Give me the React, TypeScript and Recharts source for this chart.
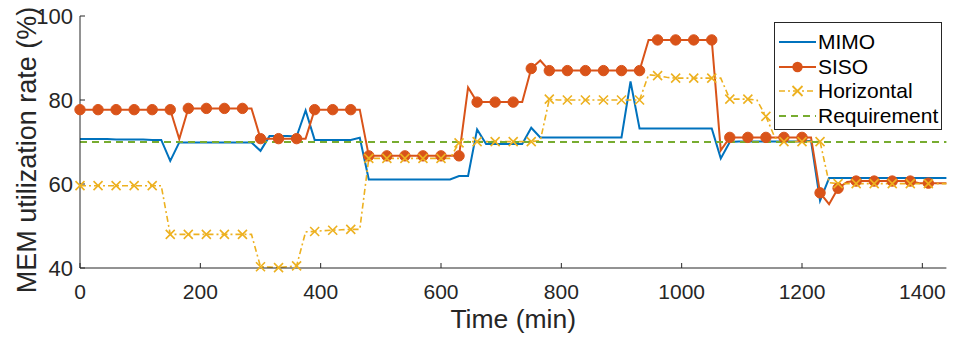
import React from 'react';
import { LineChart, Line, XAxis, YAxis, Legend, Label } from 'recharts';

const times = [
  0, 15, 30, 45, 60, 75, 90, 105, 120, 135, 150, 165, 180, 195, 210, 225, 240, 255, 270, 285,
  300, 315, 330, 345, 360, 375, 390, 405, 420, 435, 450, 465, 480, 495, 510, 525, 540, 555, 570, 585,
  600, 615, 630, 645, 660, 675, 690, 705, 720, 735, 750, 765, 780, 795, 810, 825, 840, 855, 870, 885,
  900, 915, 930, 945, 960, 975, 990, 1005, 1020, 1035, 1050, 1065, 1080, 1095, 1110, 1125, 1140, 1155, 1170, 1185,
  1200, 1215, 1230, 1245, 1260, 1275, 1290, 1305, 1320, 1335, 1350, 1365, 1380, 1395, 1410, 1425, 1440,
];

const mimo = [
  70.7, 70.7, 70.7, 70.7, 70.6, 70.6, 70.6, 70.6, 70.5, 70.5, 65.5, 69.9, 69.9, 69.9, 69.9, 69.9, 69.9, 69.9, 69.9, 69.9,
  67.9, 71.4, 71.4, 71.4, 71.3, 77.5, 70.5, 70.5, 70.5, 70.5, 70.5, 71.0, 61.1, 61.1, 61.1, 61.1, 61.1, 61.1, 61.1, 61.1,
  61.1, 61.1, 61.9, 61.9, 73.0, 69.5, 69.5, 69.5, 69.5, 69.5, 73.4, 71.1, 71.1, 71.1, 71.1, 71.1, 71.1, 71.1, 71.1, 71.1,
  71.1, 84.4, 73.2, 73.2, 73.2, 73.2, 73.2, 73.2, 73.2, 73.2, 73.2, 66.1, 70.0, 70.1, 70.1, 70.1, 70.1, 70.1, 70.1, 70.1,
  70.1, 70.3, 56.0, 61.4, 61.4, 61.4, 61.4, 61.4, 61.4, 61.4, 61.4, 61.4, 61.4, 61.4, 61.4, 61.4, 61.4,
];

const siso = [
  77.7, 77.7, 77.7, 77.7, 77.7, 77.7, 77.7, 77.7, 77.7, 77.7, 77.7, 70.7, 78.0, 78.0, 78.0, 78.0, 78.0, 78.0, 78.0, 78.0,
  70.8, 70.8, 70.8, 70.8, 70.8, 70.8, 77.7, 77.7, 77.7, 77.7, 77.7, 77.7, 66.7, 66.7, 66.7, 66.7, 66.7, 66.7, 66.7, 66.7,
  66.7, 66.7, 66.7, 83.0, 79.5, 79.5, 79.5, 79.5, 79.5, 79.5, 87.5, 89.4, 87.0, 87.0, 87.0, 87.0, 87.0, 87.0, 87.0, 87.0,
  87.0, 87.0, 87.0, 94.3, 94.3, 94.3, 94.3, 94.3, 94.3, 94.3, 94.3, 68.0, 71.1, 71.1, 71.1, 71.1, 71.1, 71.1, 71.1, 71.1,
  71.1, 71.1, 57.9, 55.2, 59.0, 60.5, 60.7, 60.7, 60.7, 60.7, 60.7, 60.7, 60.7, 60.2, 60.2, 60.2, 60.2,
];

const horizontal = [
  59.6, 59.6, 59.6, 59.6, 59.6, 59.6, 59.6, 59.6, 59.6, 59.6, 48.0, 48.0, 48.0, 48.0, 48.0, 48.0, 48.0, 48.0, 48.0, 48.0,
  40.3, 40.2, 40.1, 40.3, 40.5, 48.6, 48.7, 48.9, 49.0, 49.1, 49.2, 49.2, 66.1, 66.1, 66.1, 66.1, 66.1, 66.1, 66.1, 66.1,
  66.1, 66.1, 69.8, 70.1, 70.1, 70.1, 70.1, 70.1, 70.1, 70.1, 70.1, 70.3, 80.2, 80.0, 80.0, 80.0, 80.0, 80.0, 80.0, 80.0,
  80.0, 80.0, 80.0, 86.0, 85.8, 85.4, 85.2, 85.2, 85.2, 85.2, 85.2, 85.2, 80.2, 80.2, 80.2, 80.0, 76.1, 71.0, 70.1, 70.1,
  70.1, 70.1, 70.1, 60.3, 60.1, 60.1, 60.1, 60.1, 60.1, 60.1, 60.1, 60.1, 60.1, 60.1, 60.1, 60.1, 60.1,
];

const requirementLevel = 70;

const xTicks = [0, 200, 400, 600, 800, 1000, 1200, 1400];
const yTicks = [40, 60, 80, 100];

const seriesNames = ['MIMO', 'SISO', 'Horizontal', 'Requirement'];

const data = times.map((t, i) => ({
  t,
  mimo: mimo[i],
  siso: siso[i],
  horizontal: horizontal[i],
  req: requirementLevel,
}));

const C_MIMO = '#0072BD';
const C_SISO = '#D95319';
const C_HOR = '#EDB120';
const C_REQ = '#77AC30';
const AXIS = '#262626';
const FONT = '"Liberation Sans", Arial, Helvetica, sans-serif';

const lastIndex = times.length - 1;

const sisoDot = (props: any) => {
  const { cx, cy, index } = props;
  if (index % 2 !== 0 || index >= lastIndex) return <g key={`sd${index}`} />;
  return <circle key={`sd${index}`} cx={cx} cy={cy} r={5.2} fill={C_SISO} stroke={C_SISO} strokeWidth={1} />;
};

const horDot = (props: any) => {
  const { cx, cy, index } = props;
  if (index % 2 !== 0 || index >= lastIndex) return <g key={`hd${index}`} />;
  const s = 4.5;
  return (
    <path
      key={`hd${index}`}
      d={`M${cx - s},${cy - s}L${cx + s},${cy + s}M${cx - s},${cy + s}L${cx + s},${cy - s}`}
      stroke={C_HOR}
      strokeWidth={1.6}
      fill="none"
    />
  );
};

const LegendSample = ({ kind }: { kind: number }) => {
  const w = 37;
  const h = 24;
  const y = h / 2;
  if (kind === 0)
    return (
      <svg width={w} height={h}>
        <line x1={0} y1={y} x2={w} y2={y} stroke={C_MIMO} strokeWidth={2} />
      </svg>
    );
  if (kind === 1)
    return (
      <svg width={w} height={h}>
        <line x1={0} y1={y} x2={w} y2={y} stroke={C_SISO} strokeWidth={2} />
        <circle cx={w / 2} cy={y} r={5.2} fill={C_SISO} />
      </svg>
    );
  if (kind === 2)
    return (
      <svg width={w} height={h}>
        <line x1={0} y1={y} x2={w} y2={y} stroke={C_HOR} strokeWidth={1.6} strokeDasharray="6 3 2 3" />
        <path
          d={`M${w / 2 - 5},${y - 5}L${w / 2 + 5},${y + 5}M${w / 2 - 5},${y + 5}L${w / 2 + 5},${y - 5}`}
          stroke={C_HOR}
          strokeWidth={1.8}
        />
      </svg>
    );
  return (
    <svg width={w} height={h}>
      <line x1={0} y1={y} x2={w} y2={y} stroke={C_REQ} strokeWidth={2} strokeDasharray="7 5" />
    </svg>
  );
};

const renderLegend = () => (
  <div
    style={{
      border: `1px solid ${AXIS}`,
      background: '#fff',
      width: 168,
      height: 108,
      boxSizing: 'border-box',
      paddingTop: 7,
      paddingLeft: 4,
      fontFamily: FONT,
      fontSize: 21,
      color: '#000',
    }}
  >
    {seriesNames.map((name, i) => (
      <div key={name} style={{ display: 'flex', alignItems: 'center', height: 24.5 }}>
        <LegendSample kind={i} />
        <span style={{ marginLeft: 2, lineHeight: '24px' }}>{name}</span>
      </div>
    ))}
  </div>
);

const YLabel = () => (
  <text
    x={36}
    y={150}
    transform="rotate(-90 36 150)"
    textAnchor="middle"
    fontSize={27}
    fontFamily={FONT}
    fill={AXIS}
  >
    MEM utilization rate (%)
  </text>
);

export default function App() {
  return (
    <div style={{ position: 'absolute', left: 0, top: 0, width: 956, height: 340, background: '#fff' }}>
      <LineChart width={956} height={340} data={data} margin={{ top: 16, right: 9.6, left: 0, bottom: 0 }}>
        <XAxis
          dataKey="t"
          type="number"
          domain={[0, 1440]}
          ticks={xTicks}
          height={72}
          tickSize={-5}
          tickMargin={21}
          stroke={AXIS}
          tick={{ fill: AXIS, fontSize: 21, fontFamily: FONT }}
        >
          <Label value="Time (min)" position="insideBottom" offset={12} fill={AXIS} fontSize={26.5} fontFamily={FONT} />
        </XAxis>
        <XAxis
          xAxisId="top"
          orientation="top"
          type="number"
          domain={[0, 1440]}
          ticks={xTicks}
          height={0}
          tickSize={-5}
          tick={false}
          stroke={AXIS}
          allowDataOverflow
        />
        <YAxis
          type="number"
          domain={[40, 100]}
          ticks={yTicks}
          width={80}
          tickSize={-5}
          tickMargin={12}
          stroke={AXIS}
          tick={{ fill: AXIS, fontSize: 22, fontFamily: FONT }}
        >
          <Label content={() => <YLabel />} />
        </YAxis>
        <YAxis
          yAxisId="right"
          orientation="right"
          type="number"
          domain={[40, 100]}
          ticks={yTicks}
          width={0}
          tickSize={-5}
          tick={false}
          stroke={AXIS}
          allowDataOverflow
        />
        <Legend
          layout="vertical"
          align="center"
          verticalAlign="middle"
          content={renderLegend}
          wrapperStyle={{ left: 774, top: 22, width: 168, height: 108 }}
        />
        <Line
          dataKey="mimo"
          name="MIMO"
          stroke={C_MIMO}
          strokeWidth={2}
          dot={false}
          type="linear"
          isAnimationActive={false}
        />
        <Line
          dataKey="siso"
          name="SISO"
          stroke={C_SISO}
          strokeWidth={2}
          dot={sisoDot}
          activeDot={false}
          type="linear"
          isAnimationActive={false}
        />
        <Line
          dataKey="horizontal"
          name="Horizontal"
          stroke={C_HOR}
          strokeWidth={1.6}
          strokeDasharray="6 3 2 3"
          dot={horDot}
          activeDot={false}
          type="linear"
          isAnimationActive={false}
        />
        <Line
          dataKey="req"
          name="Requirement"
          stroke={C_REQ}
          strokeWidth={2}
          strokeDasharray="7 5"
          dot={false}
          type="linear"
          isAnimationActive={false}
        />
      </LineChart>
    </div>
  );
}
